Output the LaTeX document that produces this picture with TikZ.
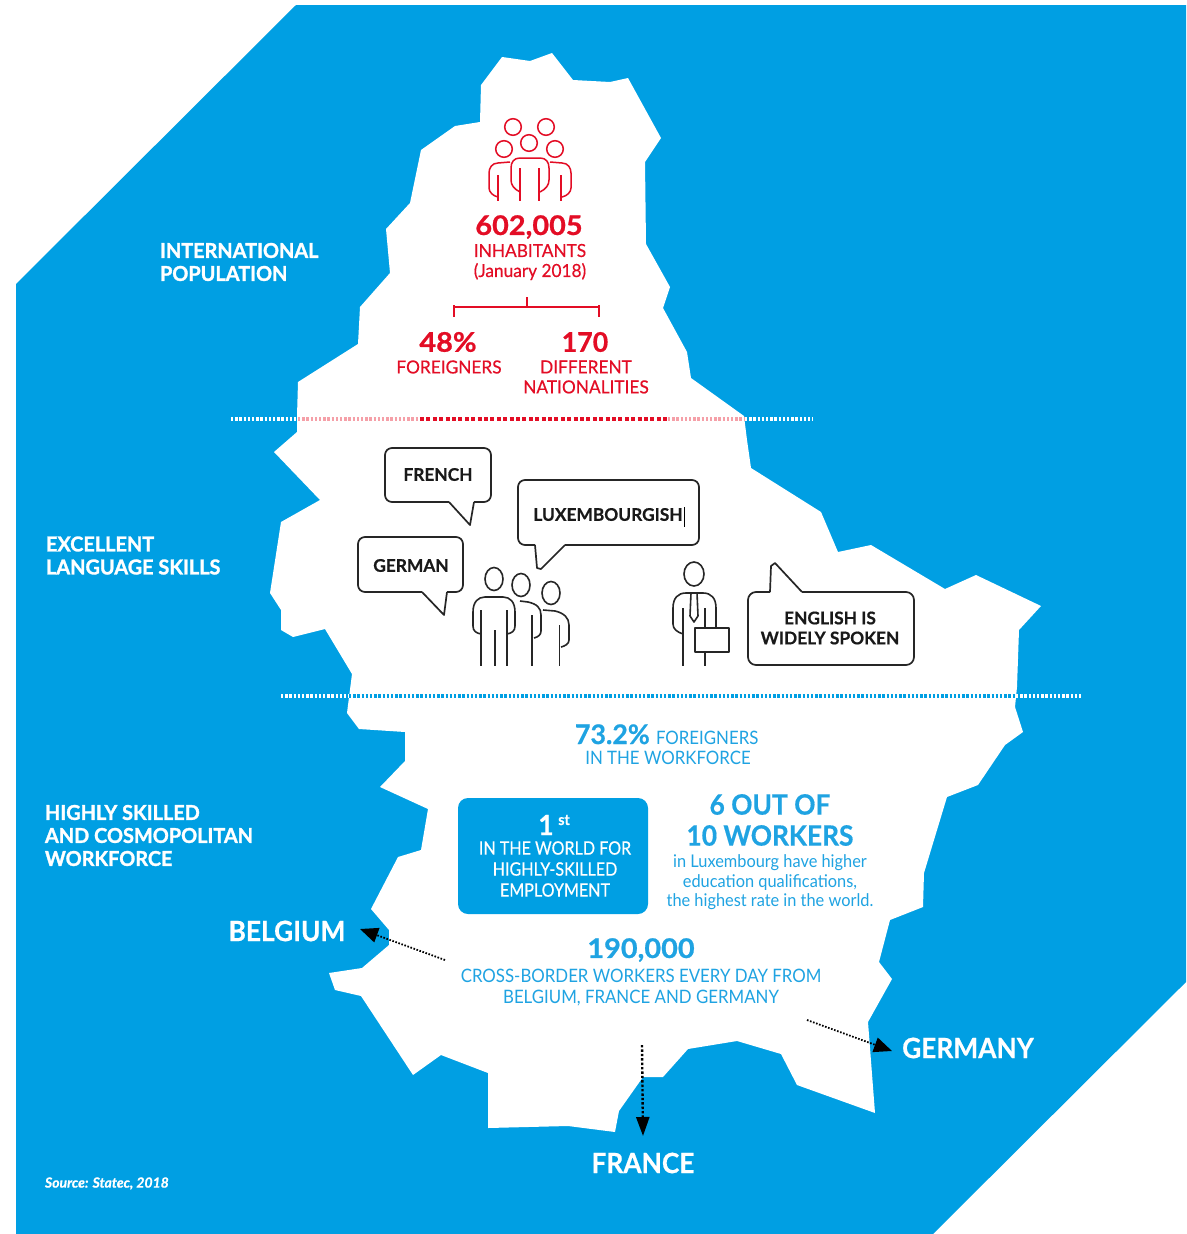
\documentclass[tikz,border=0pt]{standalone}
\usepackage{fontspec}
\setmainfont{Lato}
\newfontfamily\reg[FakeStretch=0.91]{Lato}
\newfontfamily\thin[FakeStretch=0.935]{Lato}
\newfontfamily\boxf[FakeStretch=0.87,FakeBold=0.4]{Lato}
\newfontfamily\redf[FakeStretch=0.96,FakeBold=0.4]{Lato}
\newfontfamily\bld[FakeStretch=0.94,FakeBold=0.5]{Lato Bold}
\newfontfamily\numf[FakeStretch=1.07,FakeBold=0.8]{Lato Bold}
\newfontfamily\pctf[FakeStretch=0.99,FakeBold=0.6]{Lato Bold}
\newfontfamily\headf[FakeStretch=0.97,FakeBold=1.4]{Lato Bold}
\newfontfamily\bubf[FakeStretch=0.99,FakeBold=0.5]{Lato Bold}
\newfontfamily\srcf[FakeStretch=1.0,FakeBold=0.6]{Lato Bold Italic}
\usetikzlibrary{arrows.meta,shapes.geometric}
\definecolor{lblue}{HTML}{009FE3}
\definecolor{tblue}{HTML}{1FA3E2}
\definecolor{lred}{HTML}{E30D25}
\definecolor{pink}{HTML}{F5A0A8}
\newcommand{\fz}[2]{\fontsize{#1}{#2}\selectfont}
\tikzset{
  x=1pt,y=-1pt,
  every node/.style={inner sep=0pt,outer sep=0pt},
  band/.style={white,line width=3.2pt,dash pattern=on 2.4pt off 1.8pt},
  whitehead/.style={font=\headf\fz{20.5}{23},text=white,align=left,anchor=west},
  country/.style={font=\bld\fz{28}{30},text=white},
  redlab/.style={font=\redf\fz{18}{20},text=lred,align=center},
  rednum/.style={font=\numf\fz{27}{28},text=lred},
  bluelab/.style={font=\reg\fz{18.5}{20.5},text=tblue,align=center},
  bluenum/.style={font=\bld\fz{28}{31},text=tblue,align=center},
  redicon/.style={draw=lred,line width=1.5pt,line join=round},
  blackicon/.style={draw=black!85,line width=1.6pt,line join=round},
  bubble/.style={draw=black!85,line width=1.7pt,fill=white,line join=round},
  bubbletext/.style={font=\bubf\fz{17.5}{20},text=black!90,align=center},
  crossing/.style={draw=black,line width=1.8pt,dash pattern=on 1.6pt off 1.6pt,-{Triangle[length=18pt,width=15pt]}},
}
\begin{document}
\begin{tikzpicture}
\useasboundingbox (0,0) rectangle (1186,1234);
% blue field
\fill[lblue] (296,5) -- (1186,5) -- (1186,982) -- (933,1234) -- (16,1234) -- (16,284) -- cycle;
% map of the country
\fill[white] (502,57) -- (530,61) -- (552,53) -- (573,80) -- (610,82) -- (628,78) -- (661,138) -- (645,162) -- (646,244) -- (670,287) -- (663,308) -- (687,352) -- (691,378) -- (744,416) -- (747,440) -- (751,468) -- (821,512) -- (838,552) -- (871,545) -- (945,589) -- (976,575) -- (1041,606) -- (1019,630) -- (1017,687) -- (1015,707) -- (1023,732) -- (1005,745) -- (978,785) -- (947,797) -- (924,873) -- (923,907) -- (890,920) -- (879,962) -- (892,979) -- (868,1022) -- (875,1113) -- (797,1085) -- (781,1054) -- (737,1041) -- (688,1049) -- (663,1077) -- (643,1077) -- (619,1111) -- (615,1132) -- (568,1126) -- (488,1128) -- (488,1073) -- (441,1055) -- (413,1075) -- (361,996) -- (335,990) -- (329,973) -- (362,968) -- (389,945) -- (389,930) -- (371,909) -- (398,857) -- (421,850) -- (428,809) -- (380,787) -- (405,761) -- (405,732) -- (359,729) -- (347,713) -- (352,674) -- (325,629) -- (293,637) -- (281,630) -- (281,610) -- (270,593) -- (281,522) -- (320,500) -- (274,452) -- (297,432) -- (297,416) -- (298,382) -- (358,344) -- (360,307) -- (390,273) -- (386,229) -- (410,203) -- (421,150) -- (455,126) -- (480,122) -- (481,85) -- cycle;
% dotted bands
\coordinate (redA) at (231,419); \coordinate (redB) at (298,419); \coordinate (redC) at (420,419);
\coordinate (redD) at (668,419); \coordinate (redE) at (745,419); \coordinate (redF) at (813,419);
\draw[band] (redA) -- (redB);
\draw[band,pink] (redB) -- (redC);
\draw[band,lred,dash pattern=on 4pt off 2.4pt] (redC) -- (redD);
\draw[band,pink] (redD) -- (redE);
\draw[band] (redE) -- (redF);
\coordinate (bluA) at (281,696); \coordinate (bluB) at (349,696); \coordinate (bluC) at (1016,696); \coordinate (bluD) at (1083,696);
\draw[band] (bluA) -- (bluB);
\draw[band,lblue] (bluB) -- (bluC);
\draw[band] (bluC) -- (bluD);
% section headings
\node[whitehead] (h1) at (160,262) {INTERNATIONAL\\POPULATION};
\node[whitehead] (h2) at (46,555.5) {EXCELLENT\\LANGUAGE SKILLS};
\node[whitehead] (h3) at (45,835.5) {HIGHLY SKILLED\\AND COSMOPOLITAN\\WORKFORCE};
\node[anchor=west,font=\srcf\fz{14}{16},text=white] (src) at (45,1183.5) {Source: Statec, 2018};
% red people
\foreach \hx/\hy in {513/127,546/127,504/149,529/143,555/149}
  \draw[redicon] (\hx,\hy) circle (8.3);
\draw[redicon] (520,192) .. controls (514,189) and (511,185) .. (511,180) -- (511,168) .. controls (511,162) and (514,158) .. (520,158) -- (540,158) .. controls (546,158) and (549,162) .. (549,168) -- (549,180) .. controls (549,185) and (546,189) .. (540,192);
\draw[redicon] (520,168) -- (520,201) (539,168) -- (539,201);
\draw[redicon] (510,162) -- (498,163) .. controls (492,163) and (489,168) .. (489,173) -- (489,188) .. controls (489,192) and (493,196) .. (498,197);
\draw[redicon] (498,175) -- (498,201);
\draw[redicon] (550,162) -- (562,163) .. controls (568,163) and (571,168) .. (571,173) -- (571,188) .. controls (571,192) and (567,196) .. (562,197);
\draw[redicon] (561,175) -- (561,201);
% red texts
\node[rednum] (n1) at (529,227) {602,005};
\node[redlab] (t1) at (530,262) {INHABITANTS\\(January 2018)};
\draw[redicon] (454,305) -- (454,317) (454,307) -- (599,307) (599,305) -- (599,317) (527,297) -- (527,307);
\node[rednum] (n2) at (448,342) {48\%};
\node[redlab] (t2) at (449,367) {FOREIGNERS};
\node[rednum,font=\pctf\fz{27}{28}] (n3) at (585,342) {170};
\node[redlab] (t3) at (586,377) {DIFFERENT\\NATIONALITIES};
% speech bubbles
\draw[bubble,rounded corners=7pt] (449,502) -- (385,502) -- (385,448) -- (491,448) -- (491,502) -- (474,502);
\draw[bubble] (449,502) -- (470,525) -- (474,502);
\node[bubbletext] (fr) at (438,474.5) {FRENCH};
\draw[bubble,rounded corners=7pt] (535,545) -- (518,545) -- (518,480) -- (699,480) -- (699,545) -- (565,545);
\draw[bubble] (535,545) -- (537,568) -- (541,569) -- (565,545);
\node[bubbletext] (lu) at (608,514.5) {LUXEMBOURGISH};
\coordinate (curA) at (684.5,507); \coordinate (curB) at (684.5,527);
\draw[black,line width=1pt] (curA) -- (curB);
\draw[bubble,rounded corners=7pt] (422,592) -- (358,592) -- (358,537) -- (463,537) -- (463,592) -- (447,592);
\draw[bubble] (422,592) -- (444,615) -- (447,592);
\node[bubbletext] (de) at (411,565.5) {GERMAN};
\draw[bubble,rounded corners=8pt] (770,592) -- (748,592) -- (748,665) -- (914,665) -- (914,592) -- (802,592);
\draw[bubble] (770,592) -- (771,566) -- (775,563) -- (802,592);
\node[bubbletext] (en) at (830,628) {ENGLISH IS\\WIDELY SPOKEN};
% black people
\draw[blackicon] (494,579) ellipse (9 and 11.5);
\draw[blackicon] (521,585) ellipse (9 and 11.5);
\draw[blackicon] (551,593) ellipse (9 and 11.5);
\draw[blackicon] (481,634) .. controls (476,633) and (473,631) .. (473,626) -- (473,612) .. controls (473,602) and (478,597) .. (485,597) -- (503,597) .. controls (510,597) and (515,602) .. (515,612) -- (515,626) .. controls (515,631) and (512,633) .. (507,634);
\draw[blackicon] (481,610) -- (481,666) (495,630) -- (495,666) (507,610) -- (507,666);
\draw[blackicon] (520,601) -- (528,602) .. controls (537,604) and (541,608) .. (541,615) -- (541,631) .. controls (541,635) and (538,637) .. (534,638);
\draw[blackicon] (532,615) -- (532,666);
\draw[blackicon] (543,610) -- (555,611) .. controls (564,613) and (569,618) .. (569,625) -- (569,640) .. controls (569,644) and (565,646) .. (561,647);
\draw[blackicon] (559.5,625) -- (559.5,666);
% man with case
\draw[blackicon] (694,574) ellipse (10 and 12);
\draw[blackicon] (683,634) .. controls (677,632) and (673,629) .. (673,624) -- (673,608) .. controls (673,598) and (678,593) .. (686,593) -- (703,593) .. controls (711,593) and (716,598) .. (716,608) -- (716,628);
\draw[blackicon] (683,608) -- (683,666) (705,608) -- (705,628) (705,652) -- (705,666);
\draw[blackicon] (691,593) -- (690,616) -- (694,622) -- (698,616) -- (697,593);
\draw[blackicon] (695,628) rectangle (729,652);
% blue texts
\node[anchor=base west,font=\pctf\fz{27}{28},text=tblue] (n4) at (575,744) {73.2\%};
\node[anchor=base west,font=\reg\fz{18.5}{20},text=tblue] (t4a) at (656,744) {FOREIGNERS};
\node[bluelab] (t4b) at (668,758) {IN THE WORKFORCE};
\fill[lblue,rounded corners=10pt] (458,798) rectangle (648,914);
\node[font=\bld\fz{28}{30},text=white] (n5) at (546,825) {1};
\node[font=\bld\fz{15}{16},text=white] (n5b) at (564,820) {st};
\node[align=center,font=\boxf\fz{18.5}{21},text=white] (t5) at (555,869) {IN THE WORLD FOR\\HIGHLY-SKILLED\\EMPLOYMENT};
\node[bluenum] (n6) at (770,820) {6 OUT OF\\10 WORKERS};
\node[align=center,font=\thin\fz{17.5}{19.5},text=tblue] (t6) at (770,882.5) {in Luxembourg have higher\\education qualifications,\\the highest rate in the world.};
\node[font=\numf\fz{27}{28},text=tblue] (n7) at (641,950) {190,000};
\node[bluelab] (t7) at (641,987.5) {CROSS-BORDER WORKERS EVERY DAY FROM\\BELGIUM, FRANCE AND GERMANY};
% countries and crossings
\node[country] (be) at (287,931) {BELGIUM};
\node[country] (ge) at (968,1048) {GERMANY};
\node[country] (fr2) at (643,1163) {FRANCE};
\coordinate (beS) at (445,960); \coordinate (beT) at (360,929);
\coordinate (geS) at (807,1020); \coordinate (geT) at (892,1051);
\coordinate (frS) at (642,1045); \coordinate (frT) at (643,1136);
\draw[crossing] (beS) -- (beT);
\draw[crossing] (geS) -- (geT);
\draw[crossing,-{Triangle[length=19pt,width=13pt]},line width=2.4pt,dash pattern=on 2.4pt off 2pt] (frS) -- (frT);
\end{tikzpicture}
\end{document}
